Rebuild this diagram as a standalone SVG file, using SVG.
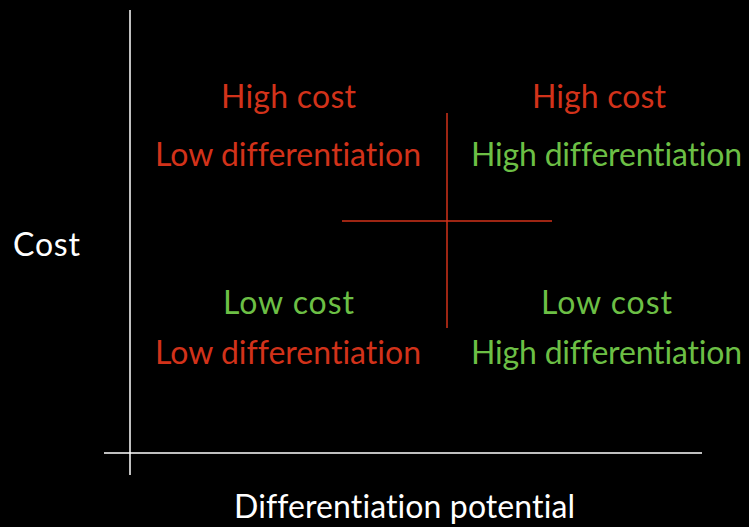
<svg xmlns="http://www.w3.org/2000/svg" width="749" height="527" viewBox="0 0 749 527">
<style>
text{font-family:"Lato","Open Sans","Liberation Sans",sans-serif;font-size:32px;text-anchor:middle;font-variant-ligatures:none;font-feature-settings:"liga" 0}
.r{fill:#d2321a}.g{fill:#6cbf45}.w{fill:#ffffff}
.ax{stroke:#ffffff;stroke-width:1.5}
.rl{stroke:#d2321a;stroke-width:1.5}
</style>
<rect width="749" height="527" fill="#000"/>
<g id="connectors">
<line class="ax" x1="130" y1="10" x2="130" y2="475"/>
<line class="ax" x1="104" y1="453" x2="702" y2="453"/>
<line class="rl" x1="447" y1="113" x2="447" y2="328"/>
<line class="rl" x1="342" y1="221" x2="552" y2="221"/>
</g>
<g id="q-hl">
<text class="r" x="288.5" y="108" textLength="135">High cost</text>
<text class="r" x="288" y="166" textLength="266">Low differentiation</text>
</g>
<g id="q-hh">
<text class="r" x="599" y="108" textLength="134">High cost</text>
<text class="g" x="606.5" y="166" textLength="271">High differentiation</text>
</g>
<g id="q-ll">
<text class="g" x="288.5" y="314" textLength="131">Low cost</text>
<text class="r" x="288" y="364" textLength="266">Low differentiation</text>
</g>
<g id="q-lh">
<text class="g" x="606.5" y="314" textLength="131">Low cost</text>
<text class="g" x="606.5" y="364" textLength="271">High differentiation</text>
</g>
<g id="axis-y"><text class="w" x="46.5" y="256" textLength="67">Cost</text></g>
<g id="axis-x"><text class="w" x="404.5" y="518" textLength="341">Differentiation potential</text></g>
</svg>
